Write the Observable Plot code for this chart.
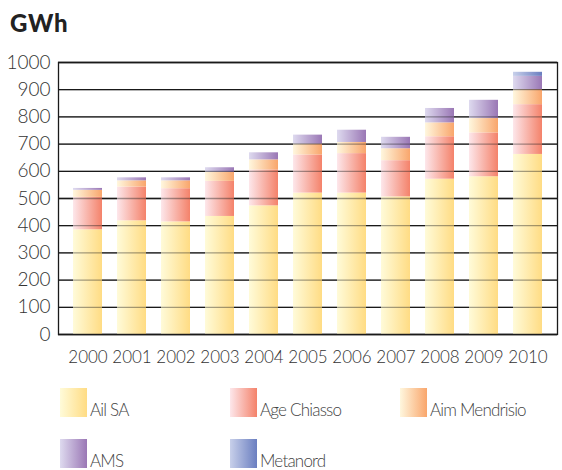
<!DOCTYPE html>
<html>
<head>
<meta charset="utf-8">
<script src="https://cdn.jsdelivr.net/npm/d3@7"></script>
<script src="https://cdn.jsdelivr.net/npm/@observablehq/plot@0.6"></script>
<style>
  body { margin: 0; background: #fff; font-family: Lato, "Open Sans", sans-serif; }
  #wrap { position: relative; width: 562px; height: 470px; overflow: hidden; }
  #title { position: absolute; left: 10px; top: 8px; font-size: 24px; font-weight: 900; color: #222; font-family: Lato, "Open Sans", sans-serif; letter-spacing: 0.8px; }
  #chart { position: absolute; left: 0; top: 50px; }
  .lg { position: absolute; display: flex; align-items: flex-end; font-size: 17px; font-weight: 300; color: #444; letter-spacing: -0.8px; }
  .sw { width: 27px; height: 29px; margin-right: 3px; }
  svg text { font-weight: 300; }
</style>
</head>
<body>
<div id="wrap">
  <div id="title">GWh</div>
  <div id="chart"></div>
  <div id="legend"></div>
</div>
<script>
const years = ["2000","2001","2002","2003","2004","2005","2006","2007","2008","2009","2010"];
const seriesNames = ["Ail SA","Age Chiasso","Aim Mendrisio","AMS","Metanord"];
const ailSA        = [385, 418, 414, 434, 473, 520, 520, 506, 571, 580, 662];
const ageChiasso   = [119, 124, 122, 129, 132, 140, 145, 133, 156, 161, 183];
const aimMendrisio = [26, 23, 29, 33, 37, 40, 41, 44, 51, 53, 55];
const ams          = [7, 11, 11, 17, 26, 33, 45, 42, 53, 67, 49];
const metanord     = [0, 0, 0, 0, 0, 0, 0, 0, 0, 0, 15];
const yTicks = [0,100,200,300,400,500,600,700,800,900,1000];
const gradLeft  = ["#fffbd9", "#fde7eb", "#fff7de", "#dedaef", "#c8d0ea"];
const gradRight = ["#ffdc84", "#f4826a", "#f9a66c", "#9a77b5", "#6a7ec0"];

const seriesValues = [ailSA, ageChiasso, aimMendrisio, ams, metanord];
const data = seriesNames.flatMap((s, i) => years.map((y, j) => ({year: y, series: s, value: seriesValues[i][j]})));
const gradIds = seriesNames.map((s, i) => "grad" + i);

function defsMark() {
  const defs = d3.create("svg:defs");
  gradIds.forEach((id, i) => {
    const g = defs.append("linearGradient").attr("id", id).attr("x1", "0").attr("x2", "1").attr("y1", "0").attr("y2", "0");
    g.append("stop").attr("offset", "0").attr("stop-color", gradLeft[i]);
    g.append("stop").attr("offset", "1").attr("stop-color", gradRight[i]);
  });
  return defs.node();
}

const plot = Plot.plot({
  width: 562,
  height: 325,
  marginTop: 12,
  marginBottom: 41,
  marginLeft: 58,
  marginRight: 5,
  style: {fontFamily: "Lato, 'Open Sans', sans-serif", color: "#333", background: "transparent"},
  x: {domain: years, padding: 0.34, label: null},
  y: {domain: [0, 1000], label: null},
  color: {domain: seriesNames, range: gradIds.map(id => `url(#${id})`)},
  marks: [
    defsMark,
    Plot.ruleY(yTicks, {stroke: "#1a1a1a", strokeWidth: 1.3}),
    Plot.barY(data, {x: "year", y: "value", fill: "series"}),
    Plot.ruleY(yTicks, {stroke: "#1a1a1a", strokeWidth: 1.3, strokeOpacity: 0.4}),
    Plot.frame({stroke: "#1a1a1a", strokeWidth: 1.3}),
    Plot.axisY({ticks: yTicks, tickFormat: d3.format("d"), tickSize: 0, tickPadding: 8, fontSize: 19, label: null, fill: "#333"}),
    Plot.axisX({tickSize: 0, tickPadding: 16, fontSize: 17, label: null, fill: "#333"})
  ]
});
document.getElementById("chart").appendChild(plot);

// Legend
const legendPos = [
  {x: 60, y: 388}, {x: 230, y: 388}, {x: 400, y: 388},
  {x: 60, y: 439}, {x: 230, y: 439}
];
const legend = document.getElementById("legend");
seriesNames.forEach((s, i) => {
  const item = document.createElement("div");
  item.className = "lg";
  item.style.left = legendPos[i].x + "px";
  item.style.top = legendPos[i].y + "px";
  const sw = document.createElement("div");
  sw.className = "sw";
  sw.style.background = `linear-gradient(to right, ${gradLeft[i]}, ${gradRight[i]})`;
  const t = document.createElement("span");
  t.textContent = s;
  t.style.lineHeight = "1";
  t.style.marginBottom = "-1px";
  item.appendChild(sw);
  item.appendChild(t);
  legend.appendChild(item);
});
</script>
</body>
</html>
